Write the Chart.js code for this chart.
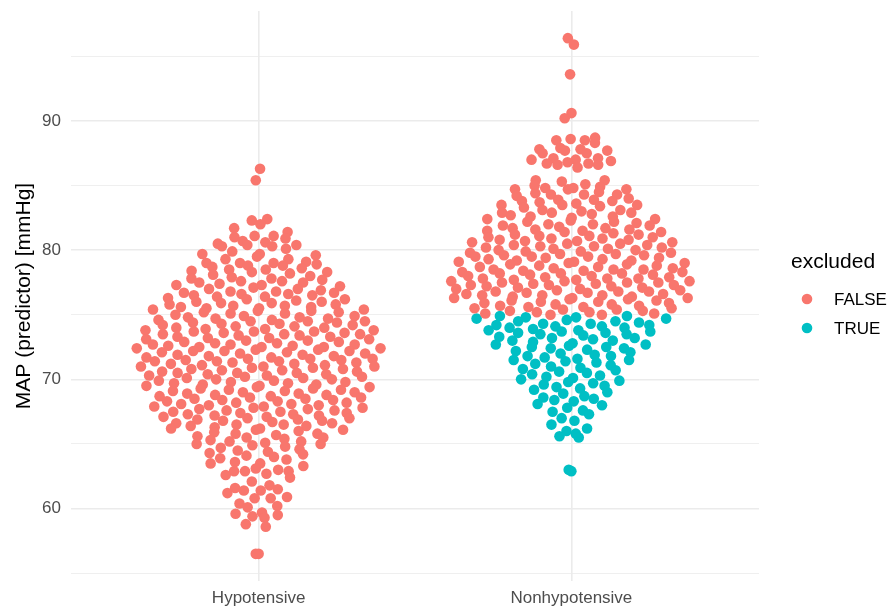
<!DOCTYPE html>
<html lang="en">
<head>
  <meta charset="UTF-8">
  <title>MAP by group</title>
  <script src="https://cdn.jsdelivr.net/npm/chart.js"></script>
  <style>
    body { margin: 0; background: #fff; }
    #chart { display: block; }
  </style>
</head>
<body>
  <canvas id="chart" width="888" height="608"></canvas>

  <script>
    // groups on the x axis
    const groups = ['Hypotensive', 'Nonhypotensive'];

    // MAP values (mmHg)
    const hypotensiveMap = [
      86.3, 85.4,
      82.4, 82.3, 82.0,
      81.7, 81.4, 81.1, 81.1, 81.0,
      80.9, 80.7, 80.6, 80.5, 80.4, 80.4, 80.3, 80.3, 80.1,
      79.9, 79.7, 79.7, 79.6, 79.5, 79.3, 79.3, 79.1, 79.0, 79.0, 79.0,
      78.9, 78.8, 78.8, 78.7, 78.6, 78.5, 78.5, 78.4, 78.3, 78.3, 78.2, 78.1, 78.0,
      77.9, 77.8, 77.8, 77.7, 77.6, 77.6, 77.5, 77.5, 77.4, 77.3, 77.3, 77.2, 77.1, 77.0, 77.0,
      76.9, 76.8, 76.8, 76.7, 76.7, 76.6, 76.6, 76.5, 76.5, 76.4, 76.4, 76.3, 76.2, 76.2, 76.1, 76.0, 76.0,
      75.9, 75.9, 75.8, 75.8, 75.7, 75.7, 75.6, 75.6, 75.5, 75.5, 75.4, 75.4, 75.3, 75.3, 75.2, 75.2, 75.1, 75.1, 75.0,
      74.9, 74.9, 74.8, 74.8, 74.7, 74.7, 74.6, 74.6, 74.5, 74.5, 74.5, 74.4, 74.4, 74.3, 74.3, 74.2, 74.2, 74.1, 74.1, 74.0, 74.0,
      73.9, 73.9, 73.8, 73.8, 73.7, 73.7, 73.7, 73.6, 73.6, 73.5, 73.5, 73.5, 73.4, 73.4, 73.3, 73.3, 73.2, 73.2, 73.1, 73.1, 73.0, 73.0,
      72.9, 72.9, 72.8, 72.8, 72.7, 72.7, 72.7, 72.6, 72.6, 72.5, 72.5, 72.5, 72.4, 72.4, 72.3, 72.3, 72.2, 72.2, 72.2, 72.1, 72.1, 72.0, 72.0,
      71.9, 71.9, 71.8, 71.8, 71.7, 71.7, 71.6, 71.6, 71.6, 71.5, 71.5, 71.4, 71.4, 71.4, 71.3, 71.3, 71.2, 71.2, 71.1, 71.1, 71.0, 71.0, 71.0,
      70.9, 70.9, 70.8, 70.8, 70.7, 70.7, 70.6, 70.6, 70.5, 70.5, 70.5, 70.4, 70.4, 70.3, 70.3, 70.2, 70.2, 70.1, 70.1, 70.0, 70.0,
      69.9, 69.9, 69.8, 69.8, 69.7, 69.7, 69.6, 69.6, 69.5, 69.5, 69.4, 69.4, 69.3, 69.3, 69.2, 69.2, 69.1, 69.1, 69.0, 69.0,
      68.9, 68.9, 68.8, 68.8, 68.7, 68.7, 68.6, 68.6, 68.5, 68.5, 68.4, 68.4, 68.3, 68.3, 68.2, 68.2, 68.1, 68.1, 68.0, 68.0,
      67.9, 67.9, 67.8, 67.8, 67.7, 67.7, 67.6, 67.6, 67.5, 67.5, 67.4, 67.4, 67.3, 67.3, 67.2, 67.2, 67.1, 67.1, 67.0, 67.0,
      66.9, 66.9, 66.8, 66.8, 66.7, 66.6, 66.6, 66.5, 66.5, 66.4, 66.4, 66.3, 66.2, 66.2, 66.1, 66.1, 66.0,
      65.9, 65.8, 65.8, 65.7, 65.6, 65.5, 65.5, 65.4, 65.3, 65.2, 65.2, 65.1, 65.0, 65.0,
      64.9, 64.8, 64.7, 64.6, 64.5, 64.4, 64.3, 64.2, 64.1, 64.0,
      63.9, 63.8, 63.6, 63.5, 63.5, 63.3, 63.1, 63.0,
      62.9, 62.9, 62.9, 62.7, 62.6, 62.4, 62.1,
      61.8, 61.6, 61.5, 61.4, 61.4, 61.2,
      60.9, 60.8, 60.8, 60.4, 60.2, 60.1,
      59.7, 59.6, 59.5, 59.4, 59.3,
      58.8, 58.6,
      56.5, 56.5
    ];

    // Nonhypotensive, excluded = FALSE
    const nonhypFalseMap = [
      96.4, 95.9, 93.6, 90.6, 90.2,
      88.7, 88.6, 88.5, 88.5, 88.3,
      87.9, 87.8, 87.8, 87.7, 87.7, 87.5, 87.5,
      87.1, 87.1, 87.0, 87.0, 86.9, 86.8, 86.7, 86.7, 86.6, 86.6, 86.4,
      85.4, 85.4, 85.3, 85.1, 85.0,
      84.9, 84.8, 84.8, 84.7, 84.7, 84.7, 84.5, 84.4, 84.3, 84.3, 84.3, 84.2, 84.0,
      83.9, 83.9, 83.8, 83.8, 83.7, 83.6, 83.5, 83.5, 83.5, 83.4, 83.3, 83.1, 83.1, 83.0,
      82.9, 82.9, 82.9, 82.8, 82.7, 82.6, 82.6, 82.5, 82.4, 82.4, 82.3, 82.2, 82.2, 82.1, 82.0, 82.0,
      81.9, 81.9, 81.8, 81.7, 81.7, 81.6, 81.6, 81.5, 81.5, 81.4, 81.4, 81.3, 81.2, 81.2, 81.1, 81.1, 81.0, 81.0,
      80.9, 80.9, 80.8, 80.8, 80.7, 80.7, 80.6, 80.6, 80.5, 80.5, 80.4, 80.4, 80.3, 80.3, 80.2, 80.2, 80.1, 80.1, 80.0, 80.0,
      79.9, 79.9, 79.8, 79.8, 79.7, 79.7, 79.6, 79.6, 79.5, 79.5, 79.5, 79.4, 79.4, 79.3, 79.3, 79.2, 79.2, 79.1, 79.1, 79.0, 79.0,
      78.9, 78.9, 78.8, 78.8, 78.7, 78.7, 78.6, 78.6, 78.5, 78.5, 78.5, 78.4, 78.4, 78.3, 78.3, 78.2, 78.2, 78.2, 78.1, 78.1, 78.0, 78.0,
      77.9, 77.9, 77.8, 77.8, 77.8, 77.7, 77.7, 77.6, 77.6, 77.6, 77.5, 77.5, 77.5, 77.4, 77.4, 77.3, 77.3, 77.3, 77.2, 77.2, 77.1, 77.1, 77.0, 77.0,
      76.9, 76.9, 76.8, 76.8, 76.8, 76.7, 76.7, 76.6, 76.6, 76.5, 76.5, 76.5, 76.4, 76.4, 76.3, 76.3, 76.3, 76.2, 76.2, 76.1, 76.1, 76.0, 76.0,
      75.9, 75.9, 75.8, 75.8, 75.7, 75.7, 75.6, 75.6, 75.5, 75.5, 75.4, 75.4, 75.3, 75.3, 75.2, 75.2, 75.1, 75.1, 75.0, 75.0
    ];

    // Nonhypotensive, excluded = TRUE
    const nonhypTrueMap = [
      74.9, 74.9, 74.8, 74.8, 74.7, 74.7, 74.6, 74.5, 74.5, 74.4, 74.3, 74.3, 74.2, 74.2, 74.1, 74.1, 74.0, 74.0,
      73.9, 73.8, 73.8, 73.7, 73.7, 73.6, 73.6, 73.5, 73.5, 73.4, 73.3, 73.2, 73.2, 73.1, 73.0, 73.0,
      72.9, 72.8, 72.7, 72.7, 72.6, 72.5, 72.5, 72.4, 72.4, 72.3, 72.2, 72.1, 72.0,
      71.9, 71.8, 71.8, 71.7, 71.6, 71.5, 71.5, 71.4, 71.3, 71.2, 71.1, 71.0,
      70.9, 70.8, 70.7, 70.6, 70.5, 70.4, 70.3, 70.2, 70.1, 70.0,
      69.9, 69.8, 69.7, 69.6, 69.5, 69.4, 69.3, 69.2, 69.0,
      68.9, 68.7, 68.6, 68.5, 68.4, 68.3, 68.1, 68.0,
      67.8, 67.6, 67.5, 67.3, 67.0,
      66.8, 66.5, 66.2, 66.0,
      65.8, 65.6, 65.5,
      63.0, 62.9
    ];

    const legendTitle = 'excluded';
    const legendLabels = ['FALSE', 'TRUE'];
    const legendColors = ['#F8766D', '#00BFC4'];
    const yTickValues = [60, 70, 80, 90];
    const yMinorValues = [55, 65, 75, 85, 95];

    // --- quasirandom (vipor style) offsets, width 0.4, bandwidth adjust 0.5 ---
    function quantile(sorted, p) {
      const h = (sorted.length - 1) * p;
      const lo = Math.floor(h);
      const hi = Math.min(lo + 1, sorted.length - 1);
      return sorted[lo] + (h - lo) * (sorted[hi] - sorted[lo]);
    }

    function bwNrd0(vals) {
      const n = vals.length;
      const mean = vals.reduce((a, b) => a + b, 0) / n;
      const sd = Math.sqrt(vals.reduce((s, v) => s + (v - mean) ** 2, 0) / (n - 1));
      const s = vals.slice().sort((a, b) => a - b);
      const iqr = quantile(s, 0.75) - quantile(s, 0.25);
      return 0.9 * Math.min(sd, iqr / 1.34) * Math.pow(n, -0.2);
    }

    function vanDerCorput(i) {
      let r = 0, f = 0.5;
      while (i > 0) {
        r += f * (i & 1);
        i >>= 1;
        f /= 2;
      }
      return r;
    }

    function quasirandom(vals, width) {
      const bw = 0.5 * bwNrd0(vals);
      const dens = y => vals.reduce((s, v) => s + Math.exp(-0.5 * ((y - v) / bw) ** 2), 0);
      const lo = Math.min(...vals) - 3 * bw;
      const hi = Math.max(...vals) + 3 * bw;
      let maxD = 0;
      for (let k = 0; k < 1024; k++) {
        const d = dens(lo + (hi - lo) * k / 1023);
        if (d > maxD) maxD = d;
      }
      const order = vals.map((v, i) => i).sort((a, b) => vals[a] - vals[b] || a - b);
      const rank = new Array(vals.length);
      order.forEach((i, r) => { rank[i] = r + 1; });
      return vals.map((v, i) => (vanDerCorput(rank[i]) - 0.5) * 2 * width * dens(v) / maxD);
    }

    const hypOffsets = quasirandom(hypotensiveMap, 0.4);
    const nonhypAll = nonhypFalseMap.concat(nonhypTrueMap);
    const nonhypOffsets = quasirandom(nonhypAll, 0.4);

    const falsePoints = hypotensiveMap.map((y, i) => ({ x: 1 + hypOffsets[i], y }))
      .concat(nonhypFalseMap.map((y, i) => ({ x: 2 + nonhypOffsets[i], y })));
    const truePoints = nonhypTrueMap.map((y, i) => ({
      x: 2 + nonhypOffsets[nonhypFalseMap.length + i], y
    }));

    const FONT = '"Liberation Sans", Arial, Helvetica, sans-serif';

    // legend drawn at the right like ggplot's
    const sideLegend = {
      id: 'sideLegend',
      afterDraw(chart) {
        const c = chart.ctx;
        c.save();
        c.textAlign = 'left';
        c.textBaseline = 'middle';
        c.fillStyle = '#000';
        c.font = '21px ' + FONT;
        c.fillText(legendTitle, 791, 262);
        c.font = '17px ' + FONT;
        legendLabels.forEach((lab, i) => {
          const y = 299 + i * 29;
          c.fillStyle = legendColors[i];
          c.beginPath();
          c.arc(807, y, 5.3, 0, Math.PI * 2);
          c.fill();
          c.fillStyle = '#000';
          c.fillText(lab, 834, y + 1);
        });
        c.restore();
      }
    };

    new Chart(document.getElementById('chart'), {
      type: 'scatter',
      data: {
        datasets: [
          {
            label: legendLabels[0],
            data: falsePoints,
            backgroundColor: legendColors[0],
            borderWidth: 0,
            pointRadius: 5.3
          },
          {
            label: legendLabels[1],
            data: truePoints,
            backgroundColor: legendColors[1],
            borderWidth: 0,
            pointRadius: 5.3
          }
        ]
      },
      options: {
        responsive: false,
        animation: false,
        devicePixelRatio: 1,
        layout: { padding: { top: 11, right: 129, bottom: 0, left: 0 } },
        plugins: {
          legend: { display: false },
          tooltip: { enabled: false }
        },
        scales: {
          x: {
            type: 'linear',
            min: 0.4,
            max: 2.6,
            afterBuildTicks: scale => { scale.ticks = groups.map((g, i) => ({ value: i + 1 })); },
            afterFit: scale => {
              scale.height = 27;
              scale.paddingLeft = 0;
              scale.paddingRight = 0;
            },
            ticks: {
              callback: v => groups[v - 1],
              color: '#4D4D4D',
              font: { family: FONT, size: 17 },
              padding: 7,
              maxRotation: 0
            },
            grid: { color: '#EBEBEB', lineWidth: 1.6, drawTicks: false },
            border: { display: false }
          },
          y: {
            min: 54.4,
            max: 98.5,
            afterBuildTicks: scale => {
              scale.ticks = yMinorValues.concat(yTickValues).sort((a, b) => a - b).map(v => ({ value: v }));
            },
            afterFit: scale => {
              scale.width = 71;
              scale.paddingTop = 0;
              scale.paddingBottom = 0;
            },
            ticks: {
              callback: v => (yTickValues.includes(v) ? String(v) : ''),
              color: '#4D4D4D',
              font: { family: FONT, size: 17 },
              padding: 10
            },
            grid: {
              color: '#EBEBEB',
              lineWidth: ctx => (yTickValues.includes(ctx.tick.value) ? 1.6 : 0.8),
              drawTicks: false
            },
            border: { display: false },
            title: {
              display: true,
              text: 'MAP (predictor) [mmHg]',
              color: '#000',
              font: { family: FONT, size: 21 },
              padding: { top: 12, bottom: 0 }
            }
          }
        }
      },
      plugins: [sideLegend]
    });
  </script>
</body>
</html>
